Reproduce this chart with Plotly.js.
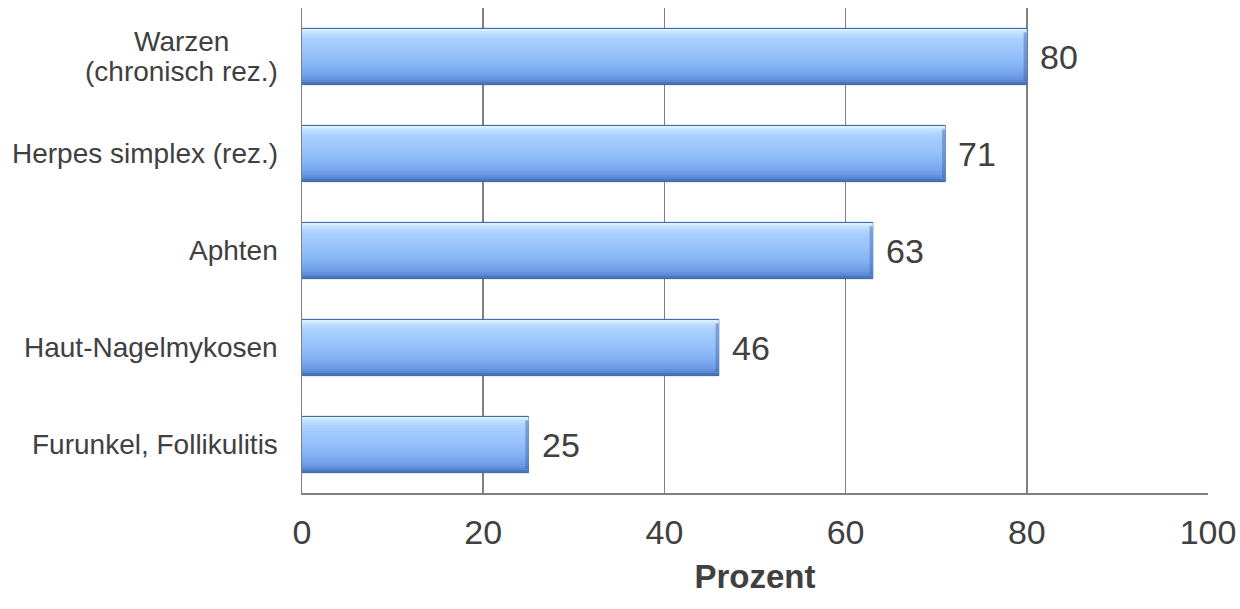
<!DOCTYPE html>
<html><head><meta charset="utf-8">
<script src="https://cdn.plot.ly/plotly-3.0.1.min.js"></script>
<style>html,body{margin:0;padding:0;background:#fff}#chart{width:1240px;height:609px}</style>
</head><body><div id="chart"></div>
<script>
const categories = ["Warzen<br>(chronisch rez.)", "Herpes simplex (rez.)", "Aphten", "Haut-Nagelmykosen", "Furunkel, Follikulitis"];
const values = [80, 71, 63, 46, 25];
const xTicks = [0, 20, 40, 60, 80, 100];
const axisTitle = "Prozent";

const gradStops = [[0,"#e4f5ff"],[0.06,"#c4e4ff"],[0.18,"#a9d0ff"],[0.45,"#98c2fb"],[0.7,"#82b1f3"],[0.88,"#6b9ae4"],[0.96,"#5583cf"],[1,"#3f6aa8"]];
function hex2rgb(h){return [1,3,5].map(i=>parseInt(h.substr(i,2),16));}
function colAt(t){
  for(let i=0;i<gradStops.length-1;i++){
    const [a,ca]=gradStops[i],[b,cb]=gradStops[i+1];
    if(t>=a&&t<=b){const f=(t-a)/(b-a);const A=hex2rgb(ca),B=hex2rgb(cb);
      return 'rgb('+A.map((v,k)=>Math.round(v+(B[k]-v)*f)).join(',')+')';}
  }
  return gradStops[gradStops.length-1][1];
}
const W = 0.58;
const traces = [];
traces.push({type:'bar', orientation:'h', y:categories, x:values, width:W, offset:-W/2,
  marker:{color:'#4a79bd', line:{color:'#3a66a3', width:1}}, hoverinfo:'skip'});
const n = 27;
const inner = W - 0.012;
for (let i = 0; i < n; i++) {
  const h = inner / n;
  const hh = (i === n-1) ? h : h*1.6;
  traces.push({type:'bar', orientation:'h', y:categories, x:values, width:hh,
    offset:-inner/2 + i*h, marker:{color:colAt((i+0.5)/n), line:{width:0}}, hoverinfo:'skip'});
}
traces.push({type:'bar', orientation:'h', y:categories, x:values.map(()=>0.35), base:values.map(v=>v-0.35),
  width:W*0.86, offset:-W*0.43, marker:{color:'rgba(60,100,170,0.45)', line:{width:0}}, hoverinfo:'skip'});

const fam = 'Liberation Sans, Arial, sans-serif';
const ctx = document.createElement('canvas').getContext('2d');
ctx.font = '28px "Liberation Sans", Arial, sans-serif';
const catAnn = [];
categories.forEach(c => {
  const lines = c.split('<br>');
  const maxW = Math.max(...lines.map(l => ctx.measureText(l).width));
  lines.forEach((ln, k) => {
    const yshift = (lines.length - 1) * 15 - k * 30;
    catAnn.push({xref:'paper', yref:'y', x:0, y:c, xanchor:'center', xshift:-24 - maxW/2, yshift:yshift,
      text:ln, showarrow:false, font:{size:28, color:'#404040'}});
  });
});
const layout = {
  width:1240, height:609,
  margin:{l:302, r:32, t:8, b:116},
  barmode:'overlay', showlegend:false,
  paper_bgcolor:'#fff', plot_bgcolor:'#fff',
  font:{family:fam, color:'#404040'},
  xaxis:{range:[0,100], tickvals:xTicks, ticktext:xTicks.map(String), showgrid:true, gridcolor:'#808080', gridwidth:1.5,
    zeroline:false, showline:true, linecolor:'#808080', linewidth:1.5, ticks:'', ticklen:0,
    tickfont:{size:34, color:'#404040'}, ticklabelstandoff:9,
    title:{text:'<b>'+axisTitle+'</b>', font:{size:33, color:'#404040'}, standoff:14}},
  yaxis:{type:'category', autorange:'reversed', showticklabels:false, showgrid:false, zeroline:false,
    showline:true, linecolor:'#808080', linewidth:1.5, ticks:''},
  annotations: catAnn
    .concat(categories.map((c,i) => ({xref:'x', yref:'y', x:values[i], y:c, xanchor:'left', xshift:11,
    text:String(values[i]), showarrow:false, font:{size:34, color:'#404040'}})))
};
Plotly.newPlot('chart', traces, layout, {displayModeBar:false, staticPlot:true});
</script></body></html>
